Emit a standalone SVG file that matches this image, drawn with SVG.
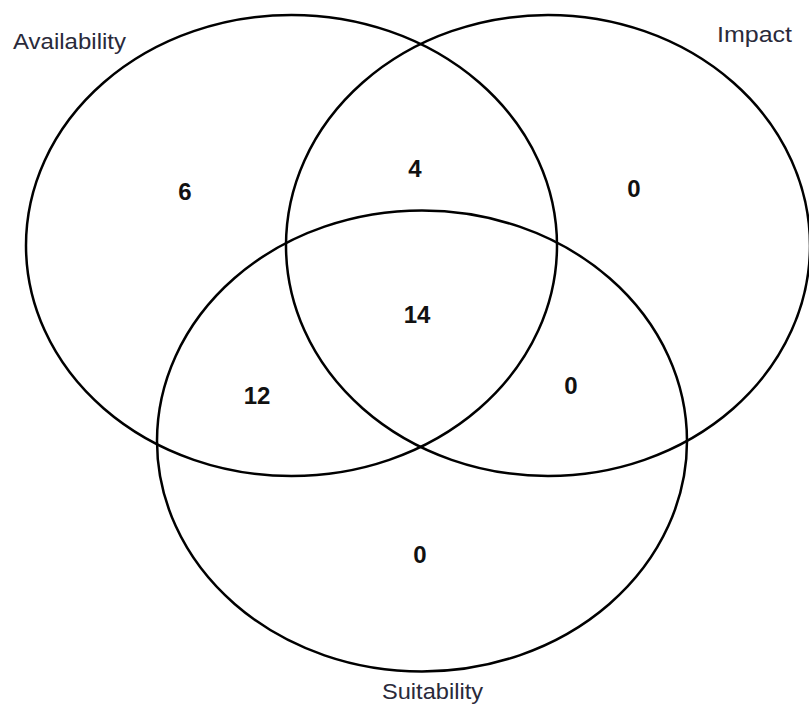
<svg xmlns="http://www.w3.org/2000/svg" width="809" height="706" viewBox="0 0 809 706">
<style>
.c{fill:none;stroke:#000;stroke-width:2.5}
.l{font-family:"Liberation Sans",Arial,sans-serif;font-size:22px;fill:#2a2a3a}
.n{font-family:"Liberation Sans",Arial,sans-serif;font-size:24px;font-weight:bold;fill:#111;text-anchor:middle}
</style>
<rect width="809" height="706" fill="#fff"/>
<g id="availability"><ellipse class="c" cx="291.5" cy="245.5" rx="265.5" ry="230.5"/><text class="l" x="13" y="49" textLength="113" lengthAdjust="spacingAndGlyphs">Availability</text></g>
<g id="impact"><ellipse class="c" cx="548" cy="245.5" rx="262" ry="230.5"/><text class="l" x="717" y="42" textLength="75" lengthAdjust="spacingAndGlyphs">Impact</text></g>
<g id="suitability"><ellipse class="c" cx="422" cy="441" rx="265" ry="230.5"/><text class="l" x="382" y="699" font-size="21" textLength="101" lengthAdjust="spacingAndGlyphs">Suitability</text></g>
<g id="counts">
<text class="n" x="185" y="200">6</text>
<text class="n" x="415" y="177">4</text>
<text class="n" x="634" y="197">0</text>
<text class="n" x="417" y="323">14</text>
<text class="n" x="257" y="404">12</text>
<text class="n" x="571" y="394">0</text>
<text class="n" x="420" y="563">0</text>
</g>
</svg>
